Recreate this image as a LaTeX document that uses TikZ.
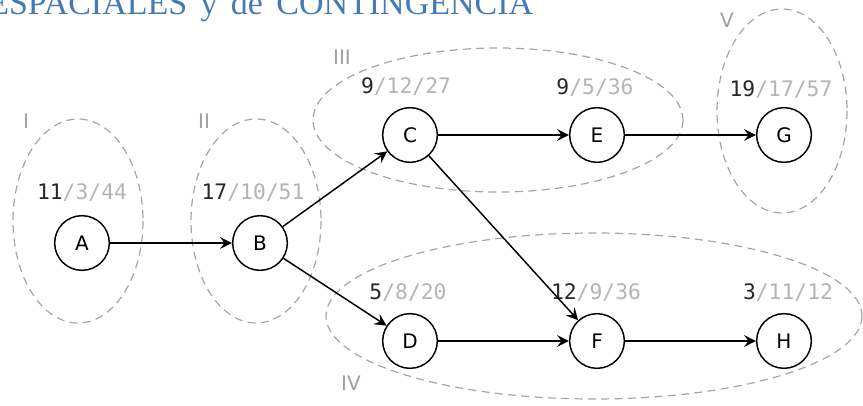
\documentclass[tikz,border=0pt]{standalone}
\usepackage{fontspec}
\setmainfont{DejaVu Sans}
\newfontfamily\titlefont{Liberation Serif}
\newfontfamily\monofont{DejaVu Sans Mono}
\usetikzlibrary{arrows.meta}
\definecolor{titleblue}{RGB}{68,123,182}
\definecolor{dashgray}{RGB}{165,165,165}
\definecolor{romangray}{RGB}{160,160,160}
\definecolor{lightnum}{RGB}{180,180,180}
\definecolor{darknum}{RGB}{40,40,40}
\begin{document}
\begin{tikzpicture}[x=0.75pt,y=-0.75pt,
  event/.style={circle,draw,line width=1.1pt,minimum size=41pt,inner sep=0pt,
    font=\fontsize{15}{17}\selectfont},
  group/.style={draw=dashgray,dash pattern=on 6pt off 4pt,line width=0.9pt},
  arr/.style={-{Stealth[length=9pt,width=9pt,inset=3.5pt]},line width=1.1pt},
  nums/.style={inner sep=0pt,font=\monofont\fontsize{16}{18}\selectfont},
  roman/.style={inner sep=0pt,text=romangray,font=\fontsize{15}{17}\selectfont},
  title/.style={inner sep=0pt,anchor=base west,text=titleblue,
    font=\titlefont\fontsize{25.5}{28}\selectfont}
]
\useasboundingbox (0,0) rectangle (863,406);
\clip (0,0) rectangle (863,406);

% title
\node[title] (title) at (-12,15) {\spaceskip=10pt ESPACIALES y de CONTINGENCIA};

% groups
\draw[group] (78,221) ellipse [x radius=65, y radius=102];
\draw[group] (256,221) ellipse [x radius=65, y radius=102];
\draw[group] (498,120) ellipse [x radius=185, y radius=72];
\draw[group] (594,316) ellipse [x radius=268, y radius=83];
\draw[group] (782,111) ellipse [x radius=65, y radius=102];

\node[roman] (rI) at (26,121) {I};
\node[roman] (rII) at (204,121) {II};
\node[roman] (rIII) at (342,57) {III};
\node[roman] (rIV) at (351,383) {IV};
\node[roman] (rV) at (727,20) {V};

% events
\node[event] (A) at (82,243) {A};
\node[event] (B) at (260,243) {B};
\node[event] (C) at (410,135) {C};
\node[event] (E) at (597,135) {E};
\node[event] (G) at (784,135) {G};
\node[event] (D) at (410,341) {D};
\node[event] (F) at (597,341) {F};
\node[event] (H) at (784,341) {H};

% labels
\node[nums] (lA) at (82,193) {\textcolor{darknum}{11}\textcolor{lightnum}{/3/44}};
\node[nums] (lB) at (253,193) {\textcolor{darknum}{17}\textcolor{lightnum}{/10/51}};
\node[nums] (lC) at (406,87) {\textcolor{darknum}{9}\textcolor{lightnum}{/12/27}};
\node[nums] (lE) at (595,88) {\textcolor{darknum}{9}\textcolor{lightnum}{/5/36}};
\node[nums] (lG) at (781,90) {\textcolor{darknum}{19}\textcolor{lightnum}{/17/57}};
\node[nums] (lD) at (408,293) {\textcolor{darknum}{5}\textcolor{lightnum}{/8/20}};
\node[nums] (lF) at (596,293) {\textcolor{darknum}{12}\textcolor{lightnum}{/9/36}};
\node[nums] (lH) at (788,293) {\textcolor{darknum}{3}\textcolor{lightnum}{ /11/12}};

% connectors
\draw[arr] (A) -- (B);
\draw[arr] (B) -- (C);
\draw[arr] (B) -- (D);
\draw[arr] (C) -- (E);
\draw[arr] (E) -- (G);
\draw[arr] (C) -- (F);
\draw[arr] (D) -- (F);
\draw[arr] (F) -- (H);
\end{tikzpicture}
\end{document}
